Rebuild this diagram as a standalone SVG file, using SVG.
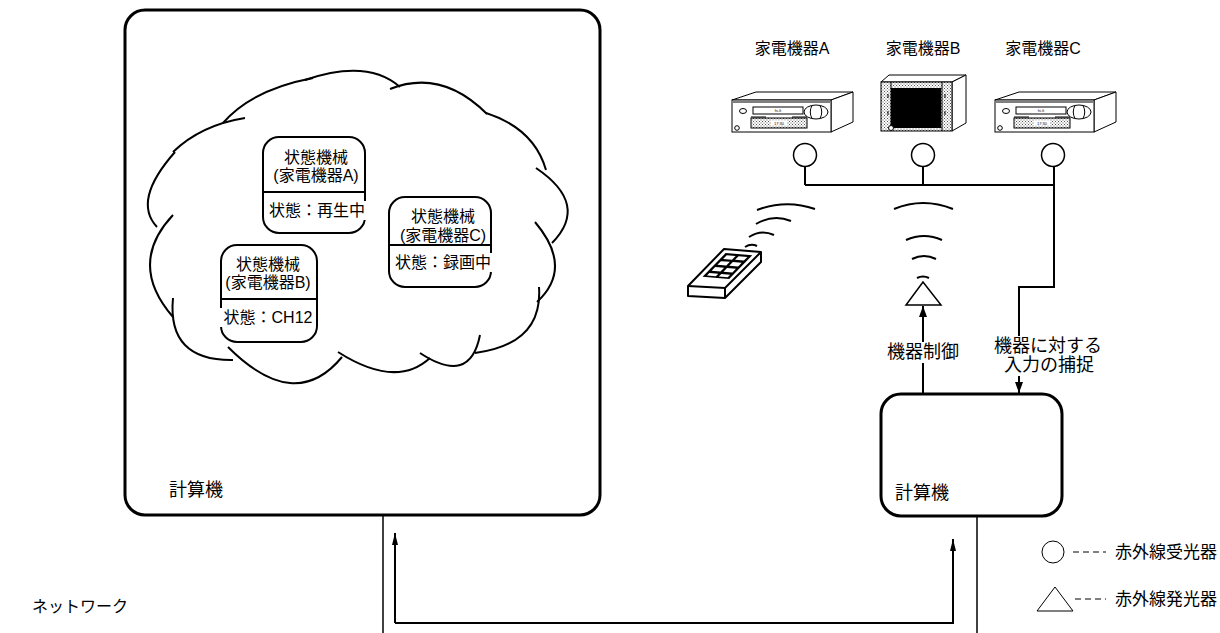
<svg xmlns="http://www.w3.org/2000/svg" width="1220" height="633" viewBox="0 0 1220 633">
  <style>
    .t { font-family: "Liberation Sans", "Noto Sans CJK JP", sans-serif; fill: #000; dominant-baseline: central; }
    .t16 { font-size: 16px; }
    .t18 { font-size: 18px; }
    .t17 { font-size: 17px; }
    .mid { text-anchor: middle; }
    .box { fill: #fff; stroke: #000; stroke-width: 3; }
    .state { fill: #fff; stroke: #000; stroke-width: 2; }
    .ln { fill: none; stroke: #000; stroke-width: 2; }
    .thin { fill: none; stroke: #000; stroke-width: 1.5; }
    .cloud path { fill: none; stroke: #000; stroke-width: 2; }
    .dev { stroke: #000; stroke-width: 1; }
    .wave { fill: none; stroke: #000; stroke-width: 2; }
    .tiny { font-family: "Liberation Sans", sans-serif; font-size: 4px; text-anchor: middle; dominant-baseline: central; fill: #000; }
  </style>
  <defs>
    <marker id="arr" viewBox="0 0 11 8" refX="11" refY="4" markerWidth="11" markerHeight="8" markerUnits="userSpaceOnUse" orient="auto">
      <path d="M0,0 L11,4 L0,8 z" fill="#000"/>
    </marker>
    <marker id="arrS" viewBox="0 0 12 6" refX="12" refY="3" markerWidth="12" markerHeight="6" markerUnits="userSpaceOnUse" orient="auto">
      <path d="M0,0 L12,3 L0,6 z" fill="#000"/>
    </marker>
    <pattern id="dots" width="3" height="3" patternUnits="userSpaceOnUse">
      <rect width="3" height="3" fill="#fff"/>
      <rect x="0" y="0" width="1" height="1" fill="#555"/>
      <rect x="1.5" y="1.5" width="1" height="1" fill="#555"/>
    </pattern>
    <!-- video deck drawn from its front top-left corner -->
    <g id="vcr">
      <polygon class="dev" points="0,0 24,-8 121,-8 99,0" fill="#fff"/>
      <polygon class="dev" points="99,0 121,-8 121,22 99,32" fill="#fff"/>
      <rect class="dev" x="0" y="0" width="99" height="32" fill="#fff"/>
      <line class="dev" x1="1" y1="2" x2="98" y2="2"/>
      <ellipse class="dev" cx="11" cy="11" rx="3.5" ry="2.5" fill="#fff"/>
      <rect class="dev" x="21" y="7" width="50" height="7" fill="#fff"/>
      <text class="tiny" x="46" y="10.5">hi-fi</text>
      <ellipse class="dev" cx="84" cy="12" rx="12" ry="7" fill="#fff"/>
      <path class="dev" fill="none" d="M80,5.5 Q76.5,12 80,18.5 M88,5.5 Q91.5,12 88,18.5"/>
      <rect class="dev" x="19" y="18" width="56" height="10" fill="url(#dots)"/>
      <line class="dev" x1="19" y1="17" x2="34" y2="17"/>
      <line class="dev" x1="60" y1="17" x2="75" y2="17"/>
      <rect x="39" y="20.5" width="16" height="5" fill="#fff"/>
      <text class="tiny" x="47" y="23">17:30</text>
      <circle class="dev" cx="5" cy="28" r="2.3" fill="#fff"/>
    </g>
  </defs>

  <rect width="1220" height="633" fill="#fff"/>

  <!-- left computer with its state machines -->
  <g id="computer-left">
    <rect class="box" x="125" y="10" width="475" height="505" rx="20"/>
    <text class="t t18" x="169" y="490">計算機</text>
  </g>

  <g id="cloud" class="cloud">
    <path d="M157,227 Q132,200.5 175,152"/>
    <path d="M173,152 Q201,125 245,118"/>
    <path d="M223,123 Q252,89.5 313,78"/>
    <path d="M305,80 Q367.5,58.5 400,87"/>
    <path d="M390,89 Q441.5,68.5 487,114"/>
    <path d="M486,113 Q534,128.5 546,170"/>
    <path d="M536,168 Q590,204.5 552,243"/>
    <path d="M535,222 Q574,268 537,302"/>
    <path d="M539,287 Q543,344 475,353"/>
    <path d="M480,335 Q470,386 420,353"/>
    <path d="M430,358 Q396,389 338,352"/>
    <path d="M342,357 Q295,414 228,347"/>
    <path d="M233,360 Q167,361 173,298"/>
    <path d="M173,317 Q127,264 173,215"/>
  </g>

  <g id="state-a">
    <rect class="state" x="263" y="137" width="102" height="96" rx="16"/>
    <line class="ln" x1="263" y1="192" x2="365" y2="192" stroke-width="1.5"/>
    <text class="t t16 mid" x="316" y="157">状態機械</text>
    <text class="t t16 mid" x="316" y="175">(家電機器A)</text>
    <rect x="267" y="201" width="100" height="19" fill="#fff"/>
    <text class="t t16 mid" x="317" y="210">状態：再生中</text>
  </g>

  <g id="state-b">
    <rect class="state" x="221" y="245" width="96" height="97" rx="16"/>
    <line class="ln" x1="221" y1="299" x2="317" y2="299" stroke-width="1.5"/>
    <text class="t t16 mid" x="268" y="264">状態機械</text>
    <text class="t t16 mid" x="268" y="282">(家電機器B)</text>
    <rect x="220" y="308" width="96" height="19" fill="#fff"/>
    <text class="t t16 mid" x="268" y="317">状態：CH12</text>
  </g>

  <g id="state-c">
    <rect class="state" x="389" y="197" width="102" height="90" rx="16"/>
    <line class="ln" x1="389" y1="245" x2="491" y2="245" stroke-width="1.5"/>
    <text class="t t16 mid" x="443" y="216">状態機械</text>
    <text class="t t16 mid" x="443" y="235">(家電機器C)</text>
    <rect x="393" y="253" width="100" height="19" fill="#fff"/>
    <text class="t t16 mid" x="443" y="262">状態：録画中</text>
  </g>

  <!-- appliances -->
  <g id="appliance-a">
    <text class="t t16 mid" x="792" y="48">家電機器A</text>
    <use href="#vcr" x="732" y="100"/>
  </g>

  <g id="appliance-b">
    <text class="t t16 mid" x="923" y="48">家電機器B</text>
    <g transform="translate(881,82)">
      <polygon class="dev" points="0,0 8,-7 85,-7 71,0" fill="#fff"/>
      <polygon class="dev" points="71,0 85,-7 85,41 71,49" fill="#fff"/>
      <rect class="dev" x="0" y="0" width="71" height="49" fill="url(#dots)"/>
      <rect x="10" y="6" width="50" height="40" fill="#000"/>
      <line class="dev" x1="10" y1="0" x2="10" y2="49"/>
      <line class="dev" x1="61" y1="0" x2="61" y2="49"/>
      <path class="dev" fill="none" d="M7,12 V16 M7,29 V33 M64,12 V16 M64,29 V33"/>
      <circle class="dev" cx="10" cy="46" r="2.5" fill="#fff"/>
    </g>
  </g>

  <g id="appliance-c">
    <text class="t t16 mid" x="1043" y="48">家電機器C</text>
    <use href="#vcr" x="995" y="100"/>
  </g>

  <!-- infrared receivers -->
  <g id="receiver-a"><circle cx="805" cy="155" r="11.5" fill="#fff" stroke="#000" stroke-width="1.5"/></g>
  <g id="receiver-b"><circle cx="923" cy="155" r="11.5" fill="#fff" stroke="#000" stroke-width="1.5"/></g>
  <g id="receiver-c"><circle cx="1053" cy="155" r="11.5" fill="#fff" stroke="#000" stroke-width="1.5"/></g>

  <!-- remote control and its signal -->
  <g id="remote">
    <polygon points="688,286 724,249 761,252 761,262 725,298 688,296" fill="#fff" stroke="#000" stroke-width="2" stroke-linejoin="round"/>
    <polyline points="688,286 725,288 761,252" fill="none" stroke="#000" stroke-width="2"/>
    <line x1="725" y1="288" x2="725" y2="298" stroke="#000" stroke-width="2"/>
    <g transform="matrix(37,3,-36,37,724,249)">
      <rect x="0.14" y="0.1" width="0.72" height="0.64" fill="#000"/>
      <rect x="0.22" y="0.15" width="0.24" height="0.1" fill="#fff"/>
      <rect x="0.54" y="0.15" width="0.24" height="0.1" fill="#fff"/>
      <rect x="0.22" y="0.31" width="0.24" height="0.1" fill="#fff"/>
      <rect x="0.54" y="0.31" width="0.24" height="0.1" fill="#fff"/>
      <rect x="0.22" y="0.47" width="0.24" height="0.1" fill="#fff"/>
      <rect x="0.54" y="0.47" width="0.24" height="0.1" fill="#fff"/>
      <rect x="0.22" y="0.63" width="0.24" height="0.07" fill="#fff"/>
      <rect x="0.54" y="0.63" width="0.24" height="0.07" fill="#fff"/>
    </g>
    <path class="wave" d="M745,247 Q751,243 757,246"/>
    <path class="wave" d="M749,237 Q761,229 774,235"/>
    <path class="wave" d="M756,224 Q773,214 791,221"/>
    <path class="wave" d="M757,210 Q786,199 815,209"/>
  </g>

  <!-- infrared emitter -->
  <g id="emitter">
    <polygon points="923,282 906,305 941,305" fill="#fff" stroke="#000" stroke-width="1.5"/>
    <path class="wave" d="M917,278 Q923,275 929,278"/>
    <path class="wave" d="M912,259 Q924,253 936,259"/>
    <path class="wave" d="M906,240 Q924,232 942,240"/>
    <path class="wave" d="M894,209 Q923,197 953,209"/>
  </g>

  <g id="computer-right">
    <rect class="box" x="881" y="394" width="181" height="122" rx="20"/>
    <text class="t t18" x="895" y="493">計算機</text>
  </g>

  <!-- connectors -->
  <g id="connectors">
    <path class="ln" d="M805,166 V185 M923,166 V185 M805,185 H1054"/>
    <path class="ln" d="M1054,166 V287 H1019 V393" marker-end="url(#arr)"/>
    <path class="ln" d="M923,393 V306" marker-end="url(#arr)"/>
    <line class="thin" x1="383" y1="516" x2="383" y2="633"/>
    <line class="thin" x1="977" y1="517" x2="977" y2="633"/>
    <path class="ln" d="M395,623 V533" marker-end="url(#arrS)"/>
    <path class="ln" d="M395,623 H953 V539" marker-end="url(#arrS)"/>
  </g>

  <!-- connector labels -->
  <g id="label-control">
    <rect x="885" y="342" width="76" height="21" fill="#fff"/>
    <text class="t t18 mid" x="923" y="352">機器制御</text>
  </g>
  <g id="label-capture">
    <rect x="992" y="336" width="112" height="40" fill="#fff"/>
    <text class="t t18 mid" x="1048" y="346">機器に対する</text>
    <text class="t t18 mid" x="1049" y="365">入力の捕捉</text>
  </g>

  <g id="label-network">
    <text class="t t16" x="32" y="606">ネットワーク</text>
  </g>

  <!-- legend -->
  <g id="legend">
    <circle cx="1053" cy="552" r="11" fill="#fff" stroke="#000" stroke-width="1"/>
    <line x1="1073" y1="552" x2="1106" y2="552" stroke="#000" stroke-width="1" stroke-dasharray="6,4"/>
    <text class="t t17" x="1115" y="552">赤外線受光器</text>
    <polygon points="1055,587 1037,611 1073,611" fill="#fff" stroke="#000" stroke-width="1"/>
    <line x1="1075" y1="599" x2="1106" y2="599" stroke="#000" stroke-width="1" stroke-dasharray="6,4"/>
    <text class="t t17" x="1115" y="599">赤外線発光器</text>
  </g>
</svg>
